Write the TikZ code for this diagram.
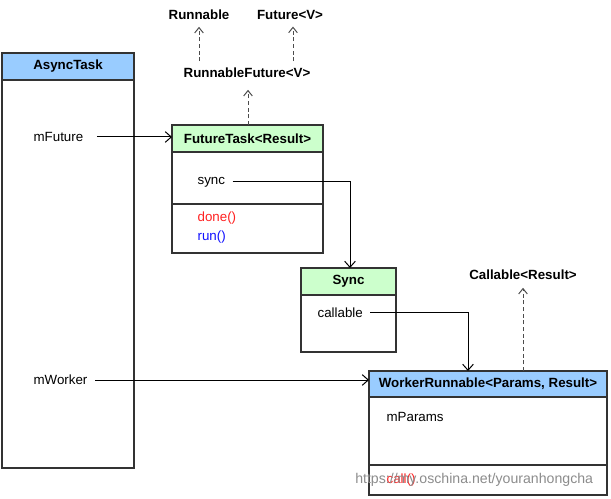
\documentclass[tikz,border=0pt]{standalone}
\usepackage{fontspec}
\setmainfont{Liberation Sans}
\usetikzlibrary{arrows.meta}
\def\px{0.75pt}
\definecolor{hblue}{HTML}{99CCFF}
\definecolor{hgreen}{HTML}{CCFFCC}
\definecolor{bord}{HTML}{333333}
\definecolor{mred}{HTML}{FF2020}
\definecolor{mblue}{HTML}{1010FF}
\tikzset{
 comp/.style={draw=bord, line width=0.9pt, rectangle, anchor=north west, inner sep=0pt, outer sep=0pt, fill=white},
 head/.style={comp, font=\bfseries\fontsize{10}{12}\selectfont},
 lbl/.style={anchor=west, inner sep=1pt, font=\fontsize{10}{12}\selectfont},
 iface/.style={inner sep=2pt, font=\bfseries\fontsize{10}{12}\selectfont},
 assoc/.style={draw=black, line width=0.75pt, -{Straight Barb[length=4.5pt,width=8pt]}},
 realize/.style={draw=black!70, line width=0.75pt, dash pattern=on 3pt off 2pt, -{Straight Barb[length=4pt,width=6.5pt]}},
}
\begin{document}
\begin{tikzpicture}[x=0.75pt,y=-0.75pt]
\useasboundingbox (0,0) rectangle (611,499);

% AsyncTask
\node[head, fill=hblue, minimum width=132*\px, minimum height=27*\px] (ath) at (2,53) {AsyncTask};
\node[comp, minimum width=132*\px, minimum height=388*\px] (atb) at (ath.south west) {};
\node[lbl] (mfut) at (32,137) {mFuture};
\node[lbl] (mwork) at (32,380) {mWorker};

% FutureTask
\node[head, fill=hgreen, minimum width=151*\px, minimum height=27*\px] (fth) at (172,125) {FutureTask<Result>};
\node[comp, minimum width=151*\px, minimum height=52*\px] (ftb) at (fth.south west) {};
\node[comp, minimum width=151*\px, minimum height=49*\px] (ftm) at (ftb.south west) {};
\node[lbl] (sync) at (196,182) {sync};
\node[lbl, text=mred] (done) at (196,218) {done()};
\node[lbl, text=mblue] (run) at (196,237) {run()};

% Sync
\node[head, fill=hgreen, minimum width=95*\px, minimum height=27*\px] (synch) at (301,268) {Sync};
\node[comp, minimum width=95*\px, minimum height=57*\px] (syncb) at (synch.south west) {};
\node[lbl] (callable) at (316,313) {callable};

% WorkerRunnable
\node[head, fill=hblue, minimum width=238*\px, minimum height=26*\px] (wrh) at (369,371) {WorkerRunnable<Params, Result>};
\node[comp, minimum width=238*\px, minimum height=68*\px] (wrb) at (wrh.south west) {};
\node[comp, minimum width=238*\px, minimum height=30*\px] (wrm) at (wrb.south west) {};
\node[lbl] (mparams) at (385,417) {mParams};
\node[lbl, text=mred] (call) at (385,480) {call()};

% interfaces
\node[iface] (runnable) at (199,15) {Runnable};
\node[iface] (future) at (290,15) {Future<V>};
\node[iface] (rfut) at (247,73) {RunnableFuture<V>};
\node[iface] (callableI) at (523,275) {Callable<Result>};

% realizations
\draw[realize, shorten <=4*\px, shorten >=4*\px] (rfut.north -| runnable) -- (runnable.south);
\draw[realize, shorten <=4*\px, shorten >=4*\px] ([xshift=3*\px]rfut.north -| future) -- ([xshift=3*\px]future.south);
\draw[realize, shorten >=9*\px] ([xshift=76*\px]fth.north west) -- ([xshift=76*\px]fth.north west |- rfut.south);
\draw[realize, shorten >=5*\px] ([xshift=154*\px]wrh.north west) -- ([xshift=154*\px]wrh.north west |- callableI.south);

% associations
\draw[assoc, shorten <=12*\px] (mfut.east) -- (mfut.east -| fth.west);
\draw[assoc, shorten <=6*\px] (mwork.east) -- (mwork.east -| wrh.west);
\draw[assoc, shorten <=6*\px] (sync.east) -| ([xshift=1.5*\px]synch.north);
\draw[assoc, shorten <=6*\px] (callable.east) -| ([xshift=99*\px]wrh.north west);

% watermark
\node[anchor=west, inner sep=0pt, text=black!45, font=\fontsize{10.6}{12}\selectfont] (wm) at (355,480) {https://my.oschina.net/youranhongcha};
\end{tikzpicture}
\end{document}
